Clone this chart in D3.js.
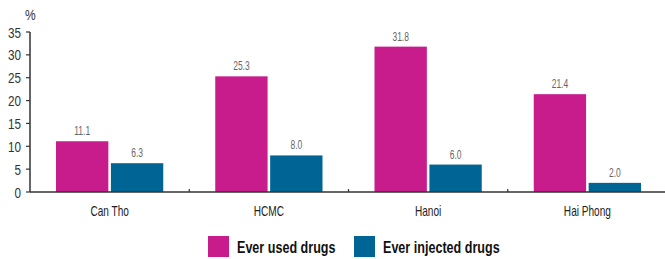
<!DOCTYPE html>
<html><head><meta charset="utf-8">
<script src="https://cdn.jsdelivr.net/npm/d3@7"></script>
<style>
body{margin:0;background:#fff;}
text{font-family:"Liberation Sans",Arial,sans-serif;}
</style></head>
<body><svg id="c" width="665" height="259"></svg>
<script>
const categories = ["Can Tho","HCMC","Hanoi","Hai Phong"];
const seriesNames = ["Ever used drugs","Ever injected drugs"];
const everUsed = [11.1, 25.3, 31.8, 21.4];
const everInjected = [6.3, 8.0, 6.0, 2.0];
const yTicks = [0,5,10,15,20,25,30,35];
const colors = ["#C81B8C","#006595"];

const svg = d3.select("#c");
const x0 = 30, x1 = 667, yTop = 32, yBot = 192;
const x = d3.scaleBand().domain(categories).range([x0, x1]).paddingInner(0).paddingOuter(0);
const y = d3.scaleLinear().domain([0,35]).range([yBot, yTop]);
const inner = d3.scaleBand().domain(seriesNames).range([26, x.bandwidth()-26]).paddingInner(5/107);

// condensed text helper
function ctext(parent, tx, ty, k, str) {
  return parent.append("text").attr("transform", `translate(${tx},${ty}) scale(${k},1)`).text(str);
}

const data = categories.map((c,i)=>({cat:c, vals:[everUsed[i], everInjected[i]]}));

const g = svg.append("g");
data.forEach(d=>{
  d.vals.forEach((v,j)=>{
    const bx = x(d.cat) + inner(seriesNames[j]);
    g.append("rect").attr("x", bx).attr("y", y(v)).attr("width", inner.bandwidth())
      .attr("height", yBot - y(v)).attr("fill", colors[j]);
    ctext(g, bx + inner.bandwidth()/2, y(v) - 6, 0.68, v.toFixed(1))
      .attr("text-anchor","middle").attr("font-size", 12.5).attr("fill","#666");
  });
});

// y axis
svg.append("line").attr("x1",x0).attr("x2",x0).attr("y1",yTop).attr("y2",yBot)
  .attr("stroke","#333").attr("stroke-width",1.5);
yTicks.forEach(t=>{
  svg.append("line").attr("x1",x0-4).attr("x2",x0).attr("y1",y(t)).attr("y2",y(t))
    .attr("stroke","#333").attr("stroke-width",1.2);
  ctext(svg, x0-9, y(t)+5.5, 0.78, t).attr("text-anchor","end").attr("font-size",15).attr("fill","#333");
});
ctext(svg, 25, 20, 0.8, "%").attr("font-size",15).attr("fill","#333");

// x axis
svg.append("line").attr("x1",x0).attr("x2",665).attr("y1",yBot).attr("y2",yBot)
  .attr("stroke","#333").attr("stroke-width",1.5);
categories.slice(1).forEach(c=>{
  svg.append("line").attr("x1",x(c)).attr("x2",x(c)).attr("y1",yBot).attr("y2",yBot-3)
    .attr("stroke","#333").attr("stroke-width",1.2);
});
categories.forEach(c=>{
  ctext(svg, x(c)+x.bandwidth()/2, 216, 0.72, c)
    .attr("text-anchor","middle").attr("font-size",14).attr("fill","#222");
});

// legend
const leg = [{x:208, tx:237},{x:354, tx:383}];
seriesNames.forEach((s,j)=>{
  svg.append("rect").attr("x",leg[j].x).attr("y",236).attr("width",21).attr("height",21).attr("fill",colors[j]);
  ctext(svg, leg[j].tx, 253, 0.74, s).attr("font-size",17).attr("font-weight","bold").attr("fill","#111");
});
</script></body></html>
